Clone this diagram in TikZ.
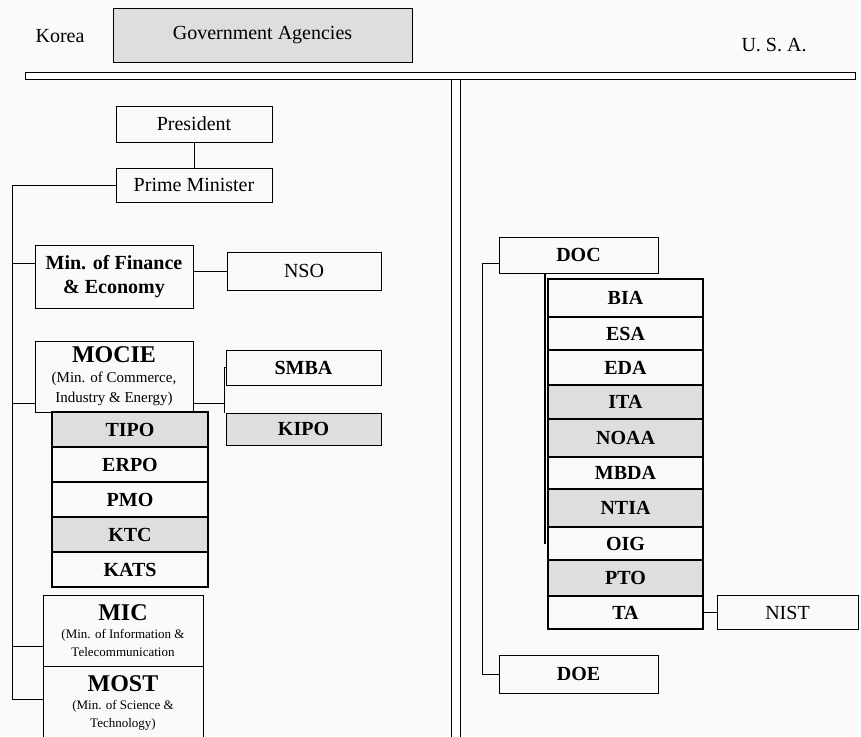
\documentclass[tikz,border=0pt]{standalone}
\usepackage{xcolor}
\usepackage{fontspec}
\setmainfont{Liberation Serif}
\usepackage{tikz}
\usetikzlibrary{positioning,calc}

\definecolor{paper}{RGB}{250,250,250}
\definecolor{cellgray}{RGB}{222,222,222}
\newcommand{\boxfont}{\fontsize{20}{24}\selectfont}
\newcommand{\notefont}{\fontsize{13}{18}\selectfont}

\begin{document}
\begin{tikzpicture}[
    x=1pt, y=-1pt,
    box/.style={draw, line width=1pt, fill=paper, inner sep=0pt, align=center, font=\boxfont},
    cell/.style={box, line width=1.2pt, outer sep=0pt, minimum width=156pt, minimum height=35pt, font=\boxfont\bfseries},
    shaded/.style={fill=cellgray},
    bar/.style={draw, line width=0.8pt, fill=white, inner sep=0pt},
    link/.style={line width=1pt}
]
\clip (0,0) rectangle (861,736);
\fill[paper] (0,0) rectangle (861,736);

% header
\node[font=\fontsize{20}{22}\selectfont] (korea) at (60,36) {Korea};
\node[box, shaded, minimum width=299pt, minimum height=54pt, font=\fontsize{20}{22}\selectfont] (title) at (262.5,35) {Government Agencies};
\node[font=\fontsize{20}{22}\selectfont] (usa) at (774,45) {U. S. A.};
\node[bar, minimum width=9pt, minimum height=670pt] (vbar) at (455.5,414) {};
\node[bar, minimum width=830pt, minimum height=7pt] (hbar) at (440,75.5) {};

% Korea
\node[box, minimum width=156pt, minimum height=36pt] (president) at (194,124) {President};
\node[box, minimum width=156pt, minimum height=34pt] (pm) at (194,185) {Prime Minister};
\node[box, minimum width=158pt, minimum height=63pt, font=\boxfont\bfseries] (mofe) at (114,277) {Min. of Finance\\\& Economy};
\node[box, minimum width=154pt, minimum height=38pt] (nso) at (304,271) {NSO};
\node[box, minimum width=158pt, minimum height=71pt, font=\fontsize{15}{20}\selectfont] (mocie) at (114,376.5)
    {{\fontsize{24}{26}\selectfont\bfseries MOCIE}\\(Min. of Commerce,\\Industry \& Energy)};
\node[box, minimum width=155pt, minimum height=35pt, font=\boxfont\bfseries] (smba) at (303.5,367.5) {SMBA};
\node[box, shaded, minimum width=155pt, minimum height=32pt, font=\boxfont\bfseries] (kipo) at (303.5,429) {KIPO};

\node[cell, shaded] (tipo) at (130,429.5) {TIPO};
\node[cell, below=0pt of tipo] (erpo) {ERPO};
\node[cell, below=0pt of erpo] (pmo) {PMO};
\node[cell, shaded, below=0pt of pmo] (ktc) {KTC};
\node[cell, below=0pt of ktc] (kats) {KATS};

\node[box, minimum width=160pt, minimum height=71pt, font=\notefont] (mic) at (123,630.5)
    {{\fontsize{24}{26}\selectfont\bfseries MIC}\\(Min. of Information \&\\Telecommunication};
\node[box, minimum width=160pt, minimum height=74pt, font=\notefont] (most) at (123,703)
    {{\fontsize{24}{26}\selectfont\bfseries MOST}\\(Min. of Science \&\\Technology)};

\coordinate (lspine) at (12,185);
\coordinate (fork) at (224,403);
\draw[link] (president) -- (pm);
\draw[link] (pm.west) -- (lspine) |- ($(most.west)+(0,-4)$);
\draw[link] ($(mofe.west)+(0,-14)$) -- ++(-23,0);
\draw[link] ($(mocie.west)+(0,26.5)$) -- ++(-23,0);
\draw[link] ($(mic.west)+(0,15.5)$) -- ++(-31,0);
\draw[link] (nso.west) -- (nso.west -| mofe.east);
\draw[link] ($(mocie.east)+(0,26.5)$) -- (fork);
\draw[link] (smba.west) -- (smba.west -| fork) -- (fork |- kipo.north);

% U.S.A.
\node[box, minimum width=159pt, minimum height=36pt, font=\boxfont\bfseries] (doc) at (578.5,255) {DOC};
\node[cell, minimum width=155pt, minimum height=38pt] (bia) at (625.5,298) {BIA};
\node[cell, minimum width=155pt, minimum height=33pt, below=0pt of bia] (esa) {ESA};
\node[cell, minimum width=155pt, below=0pt of esa] (eda) {EDA};
\node[cell, shaded, minimum width=155pt, minimum height=34pt, below=0pt of eda] (ita) {ITA};
\node[cell, shaded, minimum width=155pt, minimum height=38pt, below=0pt of ita] (noaa) {NOAA};
\node[cell, minimum width=155pt, minimum height=32pt, below=0pt of noaa] (mbda) {MBDA};
\node[cell, shaded, minimum width=155pt, minimum height=38pt, below=0pt of mbda] (ntia) {NTIA};
\node[cell, minimum width=155pt, minimum height=33pt, below=0pt of ntia] (oig) {OIG};
\node[cell, shaded, minimum width=155pt, minimum height=36pt, below=0pt of oig] (pto) {PTO};
\node[cell, minimum width=155pt, minimum height=33pt, below=0pt of pto] (ta) {TA};
\node[box, minimum width=141pt, minimum height=34pt] (nist) at (787.5,612.5) {NIST};
\node[box, minimum width=159pt, minimum height=38pt, font=\boxfont\bfseries] (doe) at (578.5,674) {DOE};

\draw[link] ($(doc.west)+(0,8)$) -- ++(-16,0) |- (doe.west);
\draw[line width=2pt] ($(bia.west |- doc.south)+(-3,0)$) -- ($(bia.west |- oig.center)+(-3,0)$);
\draw[link] (ta.east) -- (nist.west);

\end{tikzpicture}
\end{document}
